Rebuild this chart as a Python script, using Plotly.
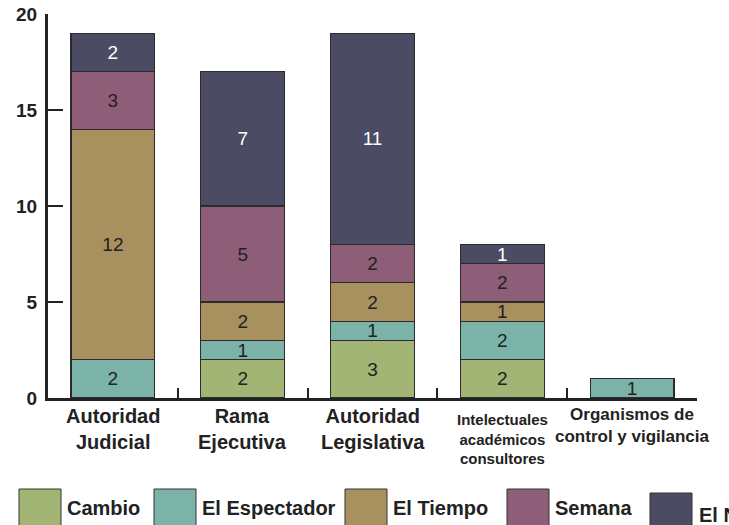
import plotly.graph_objects as go

categories = ["Autoridad<br>Judicial", "Rama<br>Ejecutiva", "Autoridad<br>Legislativa",
              "Intelectuales<br>académicos<br>consultores", "Organismos de<br>control y vigilancia"]
series_names = ["Cambio", "El Espectador", "El Tiempo", "Semana", "El Nuevo Siglo"]
cambio = [None, 2, 3, 2, None]
el_espectador = [2, 1, 1, 2, 1]
el_tiempo = [12, 2, 2, 1, None]
semana = [3, 5, 2, 2, None]
el_nuevo_siglo = [2, 7, 11, 1, None]
y_ticks = [0, 5, 10, 15, 20]

series_values = [cambio, el_espectador, el_tiempo, semana, el_nuevo_siglo]
colors = ["#a3b574", "#7cb3a9", "#a8905f", "#8e5d78", "#4b4b63"]
text_colors = ["#222222", "#222222", "#222222", "#222222", "#ffffff"]

FONT = "Liberation Sans, Arial, sans-serif"
W, H = 729, 525
PLOT_L, PLOT_R, PLOT_T, PLOT_B = 48, 697, 14, 398  # target page pixels
ML, MT = PLOT_L, PLOT_T
MR, MB = W - PLOT_R, H - PLOT_B
PW, PH = W - ML - MR, H - MT - MB


def px_x(p):
    return (p - PLOT_L) / PW


def px_y(p):
    return (PLOT_B - p) / PH


fig = go.Figure()
cat_keys = [c.replace("<br>", " ") for c in categories]
for name, vals, col, tcol in zip(series_names, series_values, colors, text_colors):
    fig.add_trace(go.Bar(
        x=cat_keys, y=vals, name=name,
        marker=dict(color=col, line=dict(color="#2b2b2b", width=1.2)),
        width=0.645,
        text=[("" if v is None else str(v)) for v in vals],
        textposition="inside", insidetextanchor="middle", textangle=0,
        textfont=dict(family=FONT, size=19, color=tcol),
        showlegend=False,
    ))

# category labels
label_sizes = [20, 20, 20, 15, 17]
label_shift = [-5, -5, -5, -11, -5]
annotations = []
for key, lab, sz, sh in zip(cat_keys, categories, label_sizes, label_shift):
    annotations.append(dict(
        x=key, xref="x", y=0, yref="paper", yanchor="top", xanchor="center",
        yshift=sh, text=lab, showarrow=False, align="center",
        font=dict(family=FONT, size=sz, color="#222222", weight="bold"),
    ))

# custom legend (large swatches)
swatch_left = [19, 154, 345, 507, 650]
swatch_top = [489, 489, 489, 489, 493]
text_left = [65, 200, 391, 553, 697]
text_y = [508, 508, 508, 508, 515]
shapes = []
for name, col, sx, st, tx, ty in zip(series_names, colors, swatch_left, swatch_top, text_left, text_y):
    shapes.append(dict(
        type="rect", xref="paper", yref="paper",
        x0=px_x(sx), x1=px_x(sx + 42), y0=px_y(st), y1=px_y(st + 40),
        fillcolor=col, line=dict(color="#333333", width=1),
    ))
    annotations.append(dict(
        x=px_x(tx), xref="paper", y=px_y(ty), yref="paper",
        xanchor="left", yanchor="middle", text=name, showarrow=False,
        font=dict(family=FONT, size=20, color="#222222", weight="bold"),
    ))

fig.update_layout(
    barmode="stack",
    width=W, height=H,
    margin=dict(l=ML, r=MR, t=MT, b=MB, autoexpand=False),
    paper_bgcolor="white", plot_bgcolor="white",
    uniformtext=dict(minsize=19, mode="show"),
    annotations=annotations, shapes=shapes,
    xaxis=dict(
        type="category", range=[-0.5, 4.5], tickson="boundaries",
        ticks="inside", ticklen=10, tickwidth=2, tickcolor="#222222",
        showticklabels=False, showline=True, linewidth=3, linecolor="#222222",
        showgrid=False, zeroline=False,
    ),
    yaxis=dict(
        range=[0, 20], tickvals=y_ticks, ticks="inside", ticklen=15, tickwidth=2,
        tickcolor="#222222", showline=True, linewidth=3, linecolor="#222222",
        showgrid=False, zeroline=False, ticklabelstandoff=4,
        ticklabeloverflow="allow",
        tickfont=dict(family=FONT, size=19, color="#222222", weight="bold"),
    ),
)

fig.write_html("out.html", config={"displayModeBar": False},
               post_script="document.body.style.margin='0px';")
